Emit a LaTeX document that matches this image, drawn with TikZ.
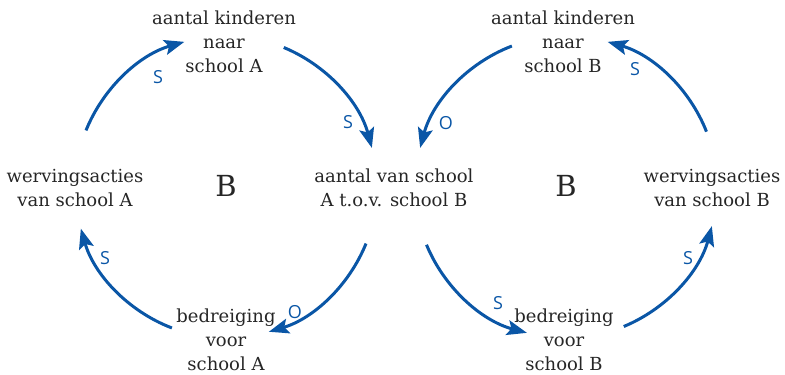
\documentclass[tikz,border=0pt]{standalone}
\usepackage{fontspec}
\setmainfont{DejaVu Serif}
\newfontfamily\labelfont{Open Sans}
\usetikzlibrary{arrows.meta}
\definecolor{loopblue}{HTML}{0A56A6}
\definecolor{ink}{HTML}{262626}
\begin{document}
\begin{tikzpicture}[x=1pt,y=1pt,
  var/.style={align=center,inner sep=0pt,text=ink,
    font=\fontsize{18}{24}\selectfont},
  loopname/.style={inner sep=0pt,text=ink,font=\fontsize{29}{30}\selectfont},
  link/.style={draw=loopblue,line width=3pt,
    -{Stealth[length=20pt,width=15pt,inset=4pt]}},
  pol/.style={inner sep=0pt,text=loopblue,font=\labelfont\fontsize{18}{19}\selectfont}]
\useasboundingbox (0,0) rectangle (785,375);

% loop centres
\coordinate (cA) at (226,188);
\coordinate (cB) at (566,188);

% variables
\node[var] (topA) at (224,333) {aantal kinderen\\naar\\school A};
\node[var] (wervA) at (75,187) {wervingsacties\\van school A};
\node[var] (mid) at (394,187) {aantal van school\\A t.o.v. school B};
\node[var] (bedA) at (226,35) {bedreiging\\voor\\school A};
\node[var] (topB) at (563,333) {aantal kinderen\\naar\\school B};
\node[var] (wervB) at (712,187) {wervingsacties\\van school B};
\node[var] (bedB) at (564,35) {bedreiging\\voor\\school B};

% loop type
\node[loopname] (loopA) at (226,189) {B};
\node[loopname] (loopB) at (566,189) {B};

% arc end points on each loop circle (radius 151)
\coordinate (a1) at ([shift={(158:151)}]cA);
\coordinate (a2) at ([shift={(67.5:151)}]cA);
\coordinate (a3) at ([shift={(-22:151)}]cA);
\coordinate (a4) at ([shift={(-111:151)}]cA);
\coordinate (b1) at ([shift={(111:151)}]cB);
\coordinate (b2) at ([shift={(21.5:151)}]cB);
\coordinate (b3) at ([shift={(202.5:151)}]cB);
\coordinate (b4) at ([shift={(-67.5:151)}]cB);

% loop A
\draw[link] (a1) arc[start angle=158,end angle=106,radius=151];
\draw[link] (a2) arc[start angle=67.5,end angle=15,radius=151];
\draw[link] (a3) arc[start angle=-22,end angle=-73.5,radius=151];
\draw[link] (a4) arc[start angle=-111,end angle=-164,radius=151];

% loop B
\draw[link] (b1) arc[start angle=111,end angle=165,radius=151];
\draw[link] (b2) arc[start angle=21.5,end angle=74,radius=151];
\draw[link] (b3) arc[start angle=202.5,end angle=255,radius=151];
\draw[link] (b4) arc[start angle=-67.5,end angle=-15,radius=151];

% polarities
\node[pol] (p1) at (158,298) {S};
\node[pol] (p2) at (348,253) {S};
\node[pol] (p3) at (295,63) {O};
\node[pol] (p4) at (105,117) {S};
\node[pol] (p5) at (446,252) {O};
\node[pol] (p6) at (635,306) {S};
\node[pol] (p7) at (498,72) {S};
\node[pol] (p8) at (688,117) {S};
\end{tikzpicture}
\end{document}
